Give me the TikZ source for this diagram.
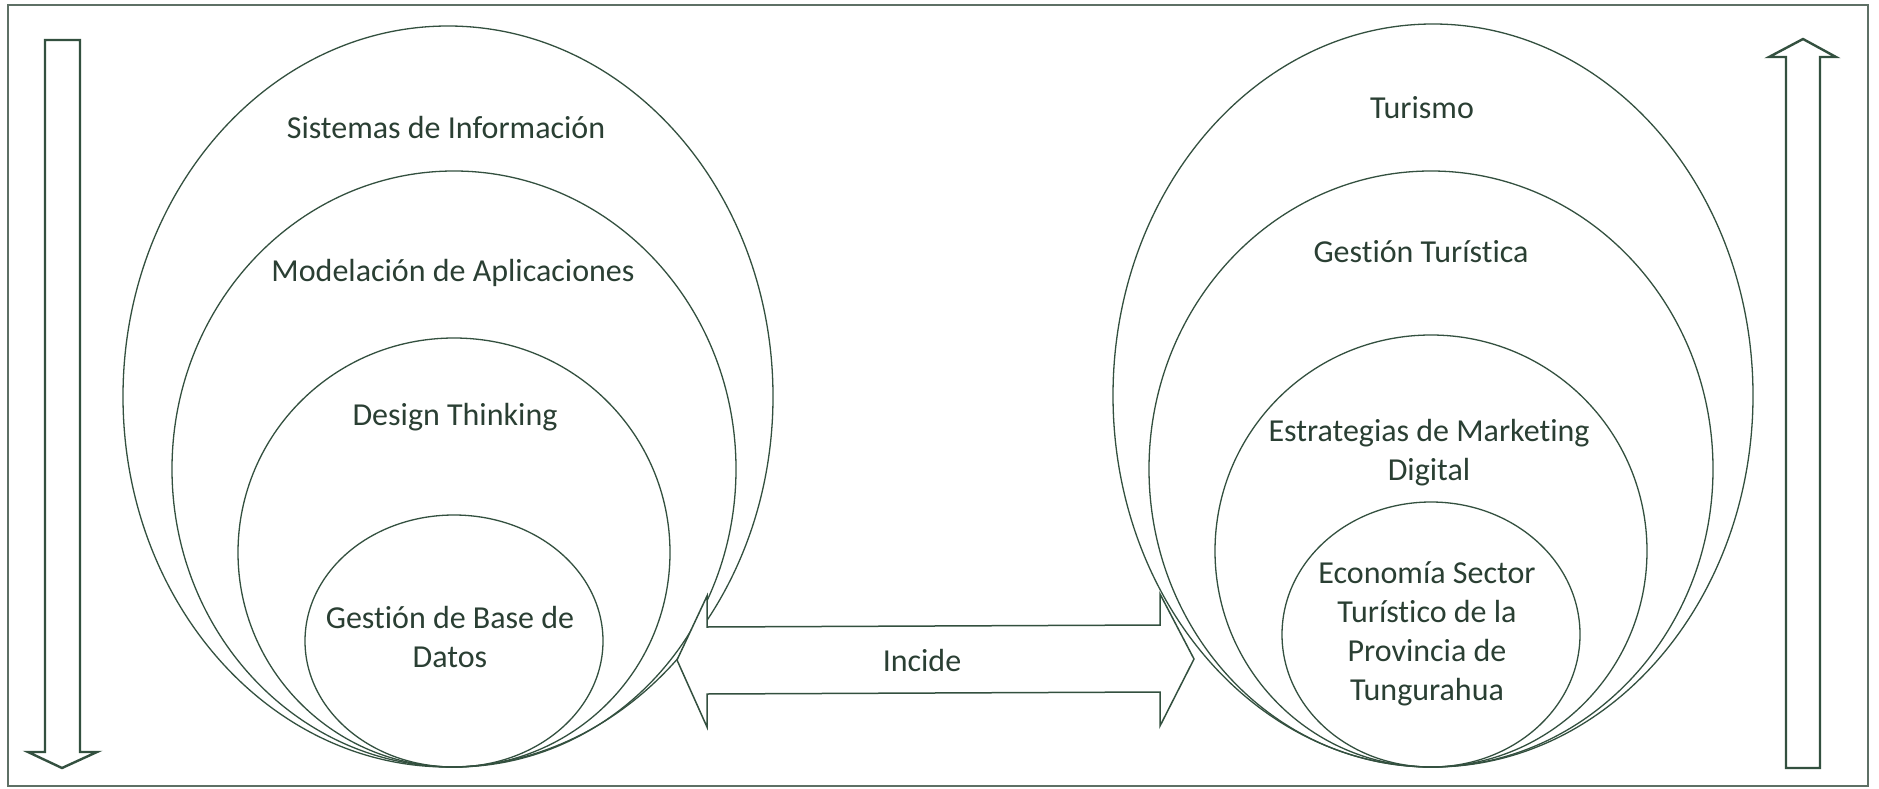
\documentclass[tikz,border=0pt]{standalone}
\usepackage{fontspec}
\setmainfont{Carlito}[Ligatures={NoCommon}]
\definecolor{ln}{HTML}{33503F}
\definecolor{tx}{HTML}{2A3F33}
\definecolor{fr}{HTML}{5E7065}
\begin{document}
\begin{tikzpicture}[x=1pt,y=-1pt,
  ring/.style={draw=ln, line width=1.3pt},
  lbl/.style={text=tx, font=\fontsize{32}{39}\selectfont, align=center, inner sep=0pt},
  vertarrow/.style={draw=ln, line width=2.4pt, fill=white, line join=miter},
  dblarrow/.style={draw=ln, line width=1.5pt, fill=white, line join=miter}]
\useasboundingbox (0,0) rectangle (1879,789);
\fill[white] (0,0) rectangle (1879,789);
\draw[draw=fr, line width=2pt] (8,5) rectangle (1868,786);

% vertical arrows
\draw[vertarrow] (45,40) -- (80,40) -- (80,752) -- (97,752) -- (62,768) -- (28,752) -- (45,752) -- cycle;
\draw[vertarrow] (1786,768) -- (1820,768) -- (1820,57) -- (1836,57) -- (1803,39) -- (1769,57) -- (1786,57) -- cycle;

% left group
\draw[ring] (448,396.5) ellipse [x radius=325pt, y radius=370.5pt];
\draw[ring] (454,469) ellipse [x radius=282pt, y radius=298pt];
\draw[ring] (454,552.5) ellipse [x radius=216pt, y radius=214.5pt];
\draw[ring] (454,641) ellipse [x radius=149pt, y radius=126pt];

% double arrow
\draw[dblarrow] (677,660) -- (707,596) -- (707,627) -- (1160,625) -- (1160,594) -- (1194,659) -- (1160,726) -- (1160,692) -- (707,694) -- (707,727) -- cycle;

% right group
\draw[ring] (1433,395.5) ellipse [x radius=320pt, y radius=371.5pt];
\draw[ring] (1431,469) ellipse [x radius=282pt, y radius=298pt];
\draw[ring] (1431,551) ellipse [x radius=216pt, y radius=216pt];
\draw[ring] (1431,634.5) ellipse [x radius=149pt, y radius=132.5pt];

% labels
\node[lbl] (si) at (446,128) {Sistemas de Información};
\node[lbl] (ma) at (453,273) {Modelación de Aplicaciones};
\node[lbl] (dt) at (455,417) {Design Thinking};
\node[lbl] (gb) at (450,637) {Gestión de Base de\\Datos};
\node[lbl] (tu) at (1422,108) {Turismo};
\node[lbl] (gt) at (1421,252) {Gestión Turística};
\node[lbl] (em) at (1429,453) {Estrategias de Marketing\\Digital};
\node[lbl] (ec) at (1427,634) {Economía Sector\\Turístico de la\\Provincia de\\Tungurahua};
\node[lbl] (inc) at (922,660) {Incide};
\end{tikzpicture}
\end{document}
